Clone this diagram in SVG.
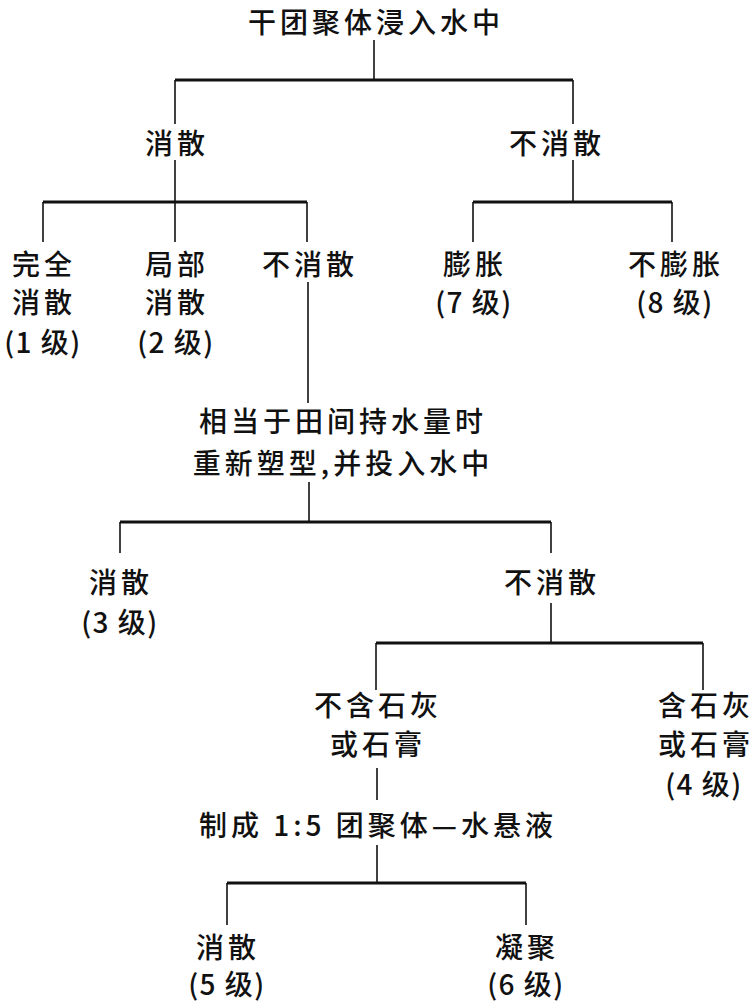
<svg xmlns="http://www.w3.org/2000/svg" width="754" height="1003" viewBox="0 0 754 1003">
<style>
text{font-family:"Noto Sans CJK SC","Noto Sans",sans-serif;font-size:28px;font-weight:500;fill:#111;text-anchor:middle;letter-spacing:4px}
text.p{letter-spacing:1.5px}
.h{stroke:#111;stroke-width:3;fill:none}
.v{stroke:#111;stroke-width:1.6;fill:none}
</style>
<rect width="754" height="1003" fill="#fff"/>
<g id="connectors">
<line class="v" x1="374" y1="40" x2="374" y2="80"/>
<line class="h" x1="175" y1="80" x2="573" y2="80"/>
<line class="v" x1="175" y1="80" x2="175" y2="124"/>
<line class="v" x1="573" y1="80" x2="573" y2="124"/>
<line class="v" x1="175" y1="160" x2="175" y2="202"/>
<line class="v" x1="573" y1="160" x2="573" y2="202"/>
<line class="h" x1="43" y1="202" x2="307" y2="202"/>
<line class="v" x1="43" y1="202" x2="43" y2="242"/>
<line class="v" x1="175" y1="202" x2="175" y2="242"/>
<line class="v" x1="307" y1="202" x2="307" y2="242"/>
<line class="h" x1="473" y1="202" x2="672" y2="202"/>
<line class="v" x1="473" y1="202" x2="473" y2="242"/>
<line class="v" x1="672" y1="202" x2="672" y2="242"/>
<line class="v" x1="308" y1="282" x2="308" y2="403"/>
<line class="v" x1="309" y1="482" x2="309" y2="522"/>
<line class="h" x1="120" y1="522" x2="551" y2="522"/>
<line class="v" x1="120" y1="522" x2="120" y2="553"/>
<line class="v" x1="551" y1="522" x2="551" y2="553"/>
<line class="v" x1="551" y1="603" x2="551" y2="643"/>
<line class="h" x1="376" y1="643" x2="703" y2="643"/>
<line class="v" x1="376" y1="643" x2="376" y2="690"/>
<line class="v" x1="703" y1="643" x2="703" y2="690"/>
<line class="v" x1="377" y1="768" x2="377" y2="800"/>
<line class="v" x1="377" y1="845" x2="377" y2="883"/>
<line class="h" x1="227" y1="883" x2="526" y2="883"/>
<line class="v" x1="227" y1="883" x2="227" y2="925"/>
<line class="v" x1="526" y1="883" x2="526" y2="925"/>
</g>
<g id="root"><text x="376" y="33">干团聚体浸入水中</text></g>
<g id="n-disperse"><text x="177" y="154">消散</text></g>
<g id="n-nodisperse"><text x="557" y="154">不消散</text></g>
<g id="n-full"><text x="44" y="275">完全</text><text x="44" y="313">消散</text><text class="p" x="43" y="353">(1 级)</text></g>
<g id="n-partial"><text x="177" y="275">局部</text><text x="177" y="313">消散</text><text class="p" x="176" y="353">(2 级)</text></g>
<g id="n-nodisperse2"><text x="310" y="275">不消散</text></g>
<g id="n-swell"><text x="475" y="275">膨胀</text><text class="p" x="474" y="313">(7 级)</text></g>
<g id="n-noswell"><text x="676" y="275">不膨胀</text><text class="p" x="675" y="313">(8 级)</text></g>
<g id="n-remold"><text x="343" y="432">相当于田间持水量时</text><text x="343" y="474">重新塑型,并投入水中</text></g>
<g id="n-disperse3"><text x="121" y="593">消散</text><text class="p" x="120" y="633">(3 级)</text></g>
<g id="n-nodisperse3"><text x="552" y="593">不消散</text></g>
<g id="n-nolime"><text x="378" y="716">不含石灰</text><text x="378" y="755">或石膏</text></g>
<g id="n-lime"><text x="706" y="716">含石灰</text><text x="706" y="755">或石膏</text><text class="p" x="704" y="795">(4 级)</text></g>
<g id="n-suspension"><text x="378" y="836">制成 1:5 团聚体—水悬液</text></g>
<g id="n-disperse5"><text x="228" y="958">消散</text><text class="p" x="227" y="995">(5 级)</text></g>
<g id="n-floc"><text x="527" y="958">凝聚</text><text class="p" x="526" y="995">(6 级)</text></g>
</svg>
